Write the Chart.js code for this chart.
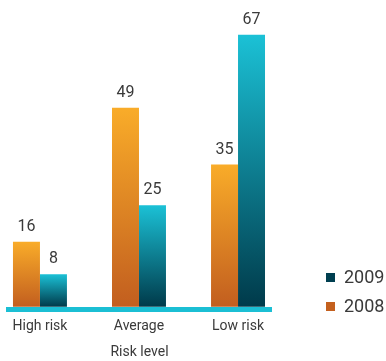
<!DOCTYPE html>
<html>
<head>
<meta charset="utf-8">
<script src="https://cdn.jsdelivr.net/npm/chart.js@4.4.0/dist/chart.umd.min.js"></script>
<style>
  html, body { margin: 0; padding: 0; background: #fff; }
  #wrap { position: relative; width: 386px; height: 361px; }
  .legend { position: absolute; left: 326px; font-family: Roboto, sans-serif; font-size: 18px; color: #3a3a3a; }
  .legend div { position: relative; height: 29px; line-height: 19px; padding-left: 18px; }
  .legend span { position: absolute; left: 0; top: 6px; width: 9px; height: 9px; }
</style>
</head>
<body>
<div id="wrap">
  <canvas id="myChart" width="386" height="361"></canvas>
  <div class="legend" id="legend" style="top:267px"></div>
</div>
<script>
  var categories = ["High risk", "Average", "Low risk"];
  var values2008 = [16, 49, 35];
  var values2009 = [8, 25, 67];
  var axisTitle = "Risk level";

  /* gradient per bar, from bar top down to zero line */
  function barGradient(top, bottom) {
    return function(c) {
      var chart = c.chart;
      if (!chart.chartArea || c.type !== 'data') return bottom;
      var y = chart.scales.y;
      var g = chart.ctx.createLinearGradient(0, y.getPixelForValue(c.parsed.y), 0, y.getPixelForValue(0));
      g.addColorStop(0, top);
      g.addColorStop(1, bottom);
      return g;
    };
  }

  function points(vals) {
    return vals.map(function(v, i) { return { x: i, y: v }; });
  }

  /* value labels above the bars */
  var valueLabels = {
    id: 'valueLabels',
    afterDatasetsDraw: function(chart) {
      var ctx = chart.ctx;
      ctx.save();
      ctx.font = '16px Roboto, sans-serif';
      ctx.fillStyle = '#3a3a3a';
      ctx.textAlign = 'center';
      ctx.textBaseline = 'alphabetic';
      chart.data.datasets.forEach(function(ds, i) {
        chart.getDatasetMeta(i).data.forEach(function(el, j) {
          ctx.fillText(ds.data[j].y, el.x, el.y - 11);
        });
      });
      ctx.restore();
    }
  };

  var ctx = document.getElementById("myChart").getContext('2d');
  var myChart = new Chart(ctx, {
    type: 'bar',
    data: {
      datasets: [{
        label: '2008',
        data: points(values2008),
        backgroundColor: barGradient('#f9ac29', '#c25e1f'),
        legendColor: '#c4601e'
      }, {
        label: '2009',
        data: points(values2009),
        backgroundColor: barGradient('#1bc1d6', '#003a4a'),
        legendColor: '#003f50'
      }]
    },
    options: {
      responsive: false,
      animation: false,
      layout: { padding: { left: 8, right: 115, top: 22.5, bottom: 0 } },
      datasets: { bar: { categoryPercentage: 0.545, barPercentage: 1 } },
      plugins: {
        legend: { display: false },
        tooltip: { enabled: false }
      },
      scales: {
        x: {
          type: 'linear',
          min: -0.3227,
          max: 2.333,
          offset: false,
          grid: { display: false, offset: false },
          border: { display: true, color: '#1bbfd4', width: 5, z: 1 },
          afterBuildTicks: function(scale) {
            scale.ticks = categories.map(function(c, i) { return { value: i }; });
          },
          afterFit: function(scale) { scale.height = 52; },
          ticks: {
            autoSkip: false,
            maxRotation: 0,
            padding: 1,
            color: '#3a3a3a',
            font: { family: 'Roboto', size: 14 },
            callback: function(v) { return categories[v]; }
          },
          title: {
            display: true,
            text: axisTitle,
            color: '#3a3a3a',
            font: { family: 'Roboto', size: 14 },
            padding: { top: 4, bottom: 0 }
          }
        },
        y: {
          display: false,
          min: -0.57,
          max: 70
        }
      }
    },
    plugins: [valueLabels]
  });

  /* legend, 2009 above 2008 */
  var legend = document.getElementById('legend');
  myChart.data.datasets.slice().reverse().forEach(function(ds) {
    var row = document.createElement('div');
    row.innerHTML = '<span style="background:' + ds.legendColor + '"></span>' + ds.label;
    legend.appendChild(row);
  });
</script>
</body>
</html>
